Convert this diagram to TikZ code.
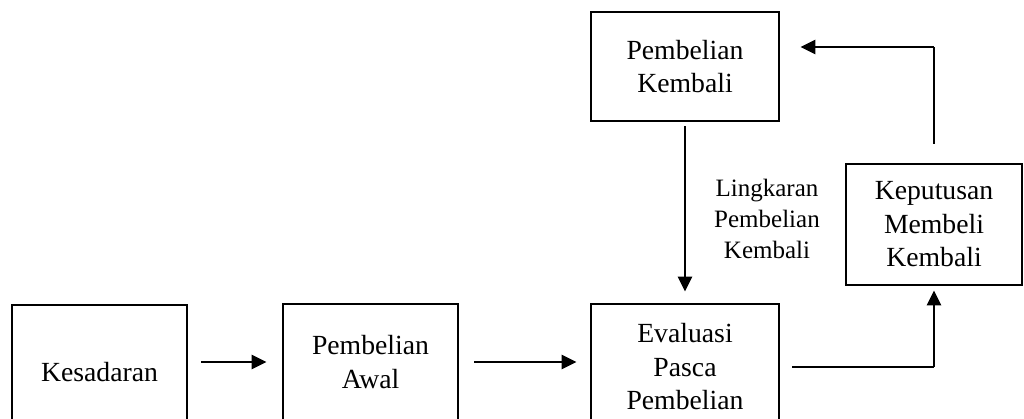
\documentclass[tikz,border=0pt]{standalone}
\usepackage{fontspec}
\setmainfont{Liberation Serif}
\usetikzlibrary{arrows.meta}
\begin{document}
\begin{tikzpicture}[x=1pt,y=-1pt,
  box/.style={draw, line width=2.8pt, align=center, inner sep=0pt,
    font=\fontsize{27.7}{33.5}\selectfont},
  arr/.style={line width=2.5pt, -{Triangle[length=15pt,width=14pt]}},
  thinline/.style={line width=1.2pt},
  lbl/.style={align=center, font=\fontsize{25}{31}\selectfont}]
\useasboundingbox (0,0) rectangle (1024,418);
\clip (0,0) rectangle (1024,418);
\node[box, minimum width=175pt, minimum height=134pt] (kes) at (99.5,372) {Kesadaran};
\node[box, minimum width=175pt, minimum height=116pt] (awal) at (370.5,362) {Pembelian\\Awal};
\node[box, minimum width=188pt, minimum height=126pt] (eval) at (685,367) {Evaluasi\\Pasca\\Pembelian};
\node[box, minimum width=188pt, minimum height=109pt] (kembali) at (685,66.5) {Pembelian\\Kembali};
\node[box, minimum width=176pt, minimum height=121pt] (kep) at (934,224.5) {Keputusan\\Membeli\\Kembali};
\node[lbl] (loop) at (767,219) {Lingkaran\\Pembelian\\Kembali};
\draw[arr, shorten <=13pt, shorten >=15pt] (kes.east |- awal.west) -- (awal.west);
\draw[arr, shorten <=15pt, shorten >=13pt] (awal.east) -- (awal.east -| eval.west);
\draw[arr, shorten <=4pt, shorten >=11pt] (kembali.south) -- (eval.north);
\coordinate (c1) at (eval.east -| kep.south);
\draw[thinline, shorten <=12pt] (eval.east) -- (c1);
\draw[arr, shorten >=4pt] (c1) -- (kep.south);
\coordinate (c2) at (kep.north |- 0,47);
\draw[thinline, shorten <=19pt] (kep.north) -- (c2);
\draw[arr, shorten >=20pt] (c2) -- (c2 -| kembali.east);
\end{tikzpicture}
\end{document}
